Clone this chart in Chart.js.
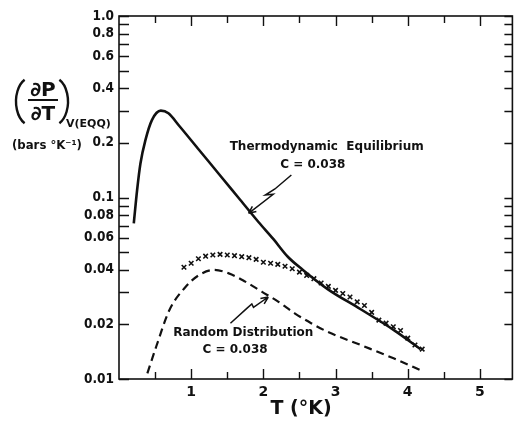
<!DOCTYPE html>
<html>
<head>
<meta charset="utf-8">
<script src="https://cdn.jsdelivr.net/npm/chart.js@4/dist/chart.umd.min.js"></script>
<style>
  html, body { margin: 0; padding: 0; background: #fff; }
  canvas { display: block; }
</style>
</head>
<body>
<canvas id="myChart" width="518" height="423"></canvas>
<script>
// ── Data ─────────────────────────────────────────────────────────────────────
var equilT = [0.205, 0.251, 0.297, 0.366, 0.456, 0.579, 0.685, 0.836, 1.110, 1.384, 1.658, 1.932, 2.137, 2.342, 2.548, 2.890, 3.342, 3.808, 4.178];
var equilY = [0.0721, 0.110, 0.154, 0.207, 0.267, 0.301, 0.291, 0.2477, 0.1827, 0.1348, 0.0994, 0.0733, 0.0591, 0.0470, 0.0399, 0.0313, 0.0243, 0.0186, 0.0146];

var randomT = [0.393, 0.516, 0.699, 0.927, 1.110, 1.315, 1.521, 1.749, 1.977, 2.205, 2.434, 2.662, 2.890, 3.347, 3.804, 4.215];
var randomY = [0.01075, 0.0151, 0.0240, 0.0323, 0.0374, 0.0399, 0.0382, 0.0344, 0.0303, 0.0267, 0.0230, 0.0203, 0.0182, 0.0154, 0.0130, 0.0110];

var measT = [0.9, 1.0, 1.1, 1.2, 1.3, 1.4, 1.5, 1.6, 1.7, 1.8, 1.9, 2.0, 2.1, 2.2, 2.3, 2.4, 2.5,
             2.6, 2.7, 2.8, 2.9, 3.0, 3.1, 3.2, 3.3, 3.4, 3.5, 3.6, 3.7, 3.8, 3.9, 4.0, 4.1, 4.2];
var measY = [0.0413, 0.0434, 0.0460, 0.0475, 0.0482, 0.0486, 0.0482, 0.0478, 0.0472, 0.0466, 0.0456, 0.0440, 0.0434, 0.0428, 0.0418, 0.0405, 0.0388,
             0.0372, 0.0357, 0.0338, 0.0324, 0.0308, 0.0296, 0.0283, 0.0266, 0.0254, 0.0233, 0.0211, 0.0203, 0.0194, 0.0185, 0.0168, 0.0154, 0.0146];

var xTicks      = [0.5, 1, 1.5, 2, 2.5, 3, 3.5, 4, 4.5, 5];
var xTickLabels = ['', '1', '', '2', '', '3', '', '4', '', '5'];
var yTicks      = [0.01, 0.02, 0.03, 0.04, 0.05, 0.06, 0.07, 0.08, 0.09, 0.1, 0.2, 0.3, 0.4, 0.5, 0.6, 0.7, 0.8, 0.9, 1.0];
var yTickLabels = ['0.01', '0.02', '', '0.04', '', '0.06', '', '0.08', '', '0.1', '0.2', '', '0.4', '', '0.6', '', '0.8', '', '1.0'];

// annotation anchors, in data units
var equilLabel  = { t: 2.877, v: 0.183, t2: 2.685, v2: 0.1454 };
var randomLabel = { t: 1.722, v: 0.0173, t2: 1.607, v2: 0.01386 };
var equilArrow  = [[2.388, 0.1330], [2.160, 0.1114], [2.027, 0.1032], [2.137, 0.1041], [1.795, 0.0818]];
var randomArrow = [[1.544, 0.0203], [1.771, 0.0245], [1.840, 0.0259], [1.863, 0.0248], [2.068, 0.0283]];

function toPoints(xs, ys) {
  var out = [];
  for (var i = 0; i < xs.length; i++) out.push({ x: xs[i], y: ys[i] });
  return out;
}

var FONT  = '"DejaVu Sans", sans-serif';
var CFONT = '"DejaVu Sans Condensed", "DejaVu Sans", sans-serif';
var INK   = '#111';

// ── Frame, inward ticks, titles, annotations ────────────────────────────────
var decorPlugin = {
  id: 'decor',
  afterDatasetsDraw: function (chart) {
    var ctx = chart.ctx;
    var a = chart.chartArea;
    var xs = chart.scales.x, ys = chart.scales.y;
    ctx.save();
    ctx.strokeStyle = INK;
    ctx.fillStyle = INK;

    // frame
    ctx.lineWidth = 1.6;
    ctx.strokeRect(a.left, a.top, a.right - a.left, a.bottom - a.top);

    // y ticks on left and right
    ctx.lineWidth = 1.4;
    ctx.beginPath();
    for (var i = 0; i < yTicks.length; i++) {
      var py = Math.round(ys.getPixelForValue(yTicks[i])) + 0.5;
      ctx.moveTo(a.left, py);  ctx.lineTo(a.left + 10, py);
      ctx.moveTo(a.right, py); ctx.lineTo(a.right - 8, py);
    }
    // x ticks on bottom and top
    for (var j = 0; j < xTicks.length; j++) {
      var px = Math.round(xs.getPixelForValue(xTicks[j])) + 0.5;
      var len = (xTicks[j] % 1 === 0) ? 10 : 7;
      ctx.moveTo(px, a.bottom); ctx.lineTo(px, a.bottom - len);
      ctx.moveTo(px, a.top);    ctx.lineTo(px, a.top + len);
    }
    ctx.stroke();

    // y axis title: (dP/dT)_V(EQQ)
    ctx.lineWidth = 2.4;
    ctx.beginPath();
    ctx.ellipse(31, 101.5, 15, 24, 0, Math.PI * 0.64, Math.PI * 1.36);
    ctx.stroke();
    ctx.beginPath();
    ctx.ellipse(53, 101.5, 15, 24, 0, -Math.PI * 0.36, Math.PI * 0.36);
    ctx.stroke();
    ctx.lineWidth = 2;
    ctx.beginPath();
    ctx.moveTo(28, 100); ctx.lineTo(58, 100);
    ctx.stroke();
    ctx.textAlign = 'center';
    ctx.textBaseline = 'alphabetic';
    ctx.font = 'bold 20px ' + FONT;
    ctx.fillText('\u2202P', 43, 96);
    ctx.fillText('\u2202T', 43, 120);
    ctx.textAlign = 'left';
    ctx.font = 'bold 11px ' + FONT;
    ctx.fillText('V(EQQ)', 66, 127);
    ctx.font = 'bold 13px ' + CFONT;
    ctx.fillText('(bars \u00b0K\u207b\u00b9)', 12, 149);

    // x axis title
    ctx.textAlign = 'center';
    ctx.font = 'bold 19px ' + FONT;
    ctx.fillText('T (\u00b0K)', 301, 414);

    // curve labels
    ctx.font = 'bold 12px ' + FONT;
    ctx.fillText('Thermodynamic  Equilibrium', xs.getPixelForValue(equilLabel.t), ys.getPixelForValue(equilLabel.v));
    ctx.fillText('C = 0.038', xs.getPixelForValue(equilLabel.t2), ys.getPixelForValue(equilLabel.v2));
    ctx.fillText('Random Distribution', xs.getPixelForValue(randomLabel.t), ys.getPixelForValue(randomLabel.v));
    ctx.fillText('C = 0.038', xs.getPixelForValue(randomLabel.t2), ys.getPixelForValue(randomLabel.v2));

    drawArrow(ctx, xs, ys, equilArrow);
    drawArrow(ctx, xs, ys, randomArrow);
    ctx.restore();
  }
};

function drawArrow(ctx, xs, ys, pts) {
  var p = [];
  for (var i = 0; i < pts.length; i++) p.push([xs.getPixelForValue(pts[i][0]), ys.getPixelForValue(pts[i][1])]);
  ctx.lineWidth = 1.5;
  ctx.beginPath();
  ctx.moveTo(p[0][0], p[0][1]);
  for (var k = 1; k < p.length; k++) ctx.lineTo(p[k][0], p[k][1]);
  var tip = p[p.length - 1], prev = p[p.length - 2];
  var ang = Math.atan2(tip[1] - prev[1], tip[0] - prev[0]);
  var L = 8, spread = 0.42;
  ctx.moveTo(tip[0], tip[1]);
  ctx.lineTo(tip[0] - L * Math.cos(ang - spread), tip[1] - L * Math.sin(ang - spread));
  ctx.moveTo(tip[0], tip[1]);
  ctx.lineTo(tip[0] - L * Math.cos(ang + spread), tip[1] - L * Math.sin(ang + spread));
  ctx.stroke();
}

// ── Chart ────────────────────────────────────────────────────────────────────
var ctx = document.getElementById('myChart').getContext('2d');
var myChart = new Chart(ctx, {
  type: 'line',
  data: {
    datasets: [
      {
        label: 'Thermodynamic Equilibrium',
        data: toPoints(equilT, equilY),
        borderColor: INK,
        borderWidth: 2.6,
        pointRadius: 0,
        cubicInterpolationMode: 'monotone',
        fill: false
      },
      {
        label: 'Random Distribution',
        data: toPoints(randomT, randomY),
        borderColor: INK,
        borderWidth: 2.2,
        borderDash: [8, 5],
        pointRadius: 0,
        cubicInterpolationMode: 'monotone',
        fill: false
      },
      {
        label: 'Measured',
        data: toPoints(measT, measY),
        showLine: false,
        pointStyle: 'crossRot',
        pointRadius: 3.2,
        pointBorderWidth: 1.6,
        pointBorderColor: INK,
        pointBackgroundColor: INK
      }
    ]
  },
  options: {
    responsive: false,
    animation: false,
    layout: { padding: { top: 16, right: 1, left: 0, bottom: 0 } },
    plugins: {
      legend: { display: false },
      tooltip: { enabled: false }
    },
    scales: {
      x: {
        type: 'linear',
        min: 0,
        max: 5.45,
        grid: { display: false, drawTicks: false },
        border: { display: false },
        afterBuildTicks: function (scale) {
          scale.ticks = xTicks.map(function (v) { return { value: v }; });
        },
        afterFit: function (scale) { scale.height = 44; },
        ticks: {
          autoSkip: false,
          maxRotation: 0,
          padding: 5,
          color: INK,
          font: { family: FONT, size: 14, weight: 'bold' },
          callback: function (value) {
            var i = xTicks.indexOf(value);
            return i >= 0 ? xTickLabels[i] : '';
          }
        }
      },
      y: {
        type: 'logarithmic',
        min: 0.01,
        max: 1.0,
        grid: { display: false, drawTicks: false },
        border: { display: false },
        afterBuildTicks: function (scale) {
          scale.ticks = yTicks.map(function (v) { return { value: v }; });
        },
        afterFit: function (scale) { scale.width = 119; },
        ticks: {
          autoSkip: false,
          padding: 5,
          color: INK,
          font: { family: CFONT, size: 13.5, weight: 'bold' },
          callback: function (value) {
            for (var i = 0; i < yTicks.length; i++) {
              if (Math.abs(yTicks[i] - value) < 1e-9) return yTickLabels[i];
            }
            return '';
          }
        }
      }
    }
  },
  plugins: [decorPlugin]
});
</script>
</body>
</html>
